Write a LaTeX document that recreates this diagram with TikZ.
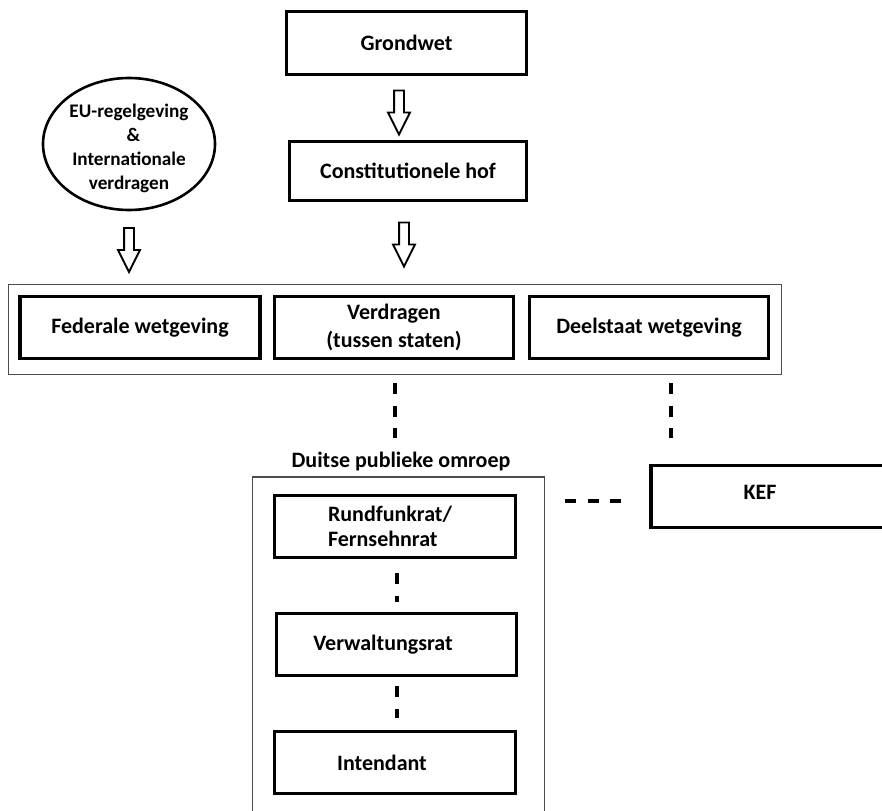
\documentclass[tikz,border=0pt]{standalone}
\usepackage{fontspec}
\setmainfont{Carlito}
\usetikzlibrary{shapes.arrows,shapes.geometric}

\begin{document}
\begin{tikzpicture}[x=1pt,y=-1pt,
  lbl/.style={font=\bfseries\fontsize{22}{25}\selectfont},
  box/.style={lbl, draw, line width=3.5pt, inner sep=0pt, align=center,
    minimum width=240pt, minimum height=62pt},
  frame/.style={draw=black!70, line width=1.2pt, inner sep=0pt},
  hollow/.style={single arrow, draw, line width=1.9pt, shape border rotate=270,
    inner xsep=4pt, inner ysep=0pt, minimum height=44pt,
    single arrow head extend=6pt, single arrow tip angle=53},
  link/.style={line width=4.5pt, dash pattern=on 11pt off 11.5pt}
]
\useasboundingbox[fill=white] (0,0) rectangle (882,810);

% top of the hierarchy
\node[box, minimum width=240pt, minimum height=63pt] (grondwet) at (406.5,43) {Grondwet};
\node[box, minimum width=237pt, minimum height=59pt] (hof) at (408,171) {Constitutionele hof};
\node[hollow] (a1) at (399,107.5) {};
\node[hollow] (a2) at (404,239.5) {};

% European and international law
\node[ellipse, draw, line width=2.6pt, minimum width=172pt, minimum height=132pt,
  inner sep=-8pt, font=\bfseries\fontsize{19.2}{24}\selectfont]
  (eu) at (129,144)
  {\raisebox{-5pt}[\height][\depth]{\begin{tabular}{@{}c@{}}
     EU-regelgeving\\ \ \ \&\\ Internationale\\ verdragen\end{tabular}}};
\node[hollow] (a3) at (129,245) {};

% the legislation row
\node[frame, minimum width=773pt, minimum height=90pt] (wetgeving) at (395,329.5) {};
\node[box] (federaal) at (140,327.5) {Federale wetgeving};
\node[box, minimum width=239pt, font=\bfseries\fontsize{22}{28}\selectfont] (verdragen)
  at (394,327.5) {Verdragen\\(tussen staten)};
\node[box, minimum width=239pt] (deelstaat) at (649,327.5) {Deelstaat wetgeving};

% public broadcaster
\node[lbl] (omroeplbl) at (401,462) {Duitse publieke omroep};
\node[frame, minimum width=292pt, minimum height=340pt] (omroep) at (398.5,647) {};
\node[box, minimum width=241pt, align=left] (rundfunk) at (395,526.5)
  {\hspace*{-10pt}Rundfunkrat/\\\hspace*{-10pt}Fernsehnrat};
\node[box, minimum width=240pt] (verwaltung) at (396.5,644.5) {\hspace*{-27pt}Verwaltungsrat};
\node[box, minimum width=241pt] (intendant) at (395,762.5) {\hspace*{-26pt}Intendant};

% KEF
\node[box, minimum width=238pt, minimum height=62pt] (kef) at (770,496.5)
  {\raisebox{8pt}{\hspace*{-20pt}KEF}};

% dashed relations
\coordinate (v1a) at (395,383);
\coordinate (v1b) at (395,438);
\coordinate (v2a) at (671,383);
\coordinate (v2b) at (671,438);
\draw[link] (v1a) -- (v1b);
\draw[link] (v2a) -- (v2b);
\coordinate (h1a) at (565,501);
\coordinate (h1b) at (621,501);
\draw[link, line width=4pt] (h1a) -- (h1b);
\draw[link] ([yshift=-14pt]rundfunk.south -| 397,0) -- ([yshift=10pt]verwaltung.north -| 397,0);
\draw[link] ([yshift=-9pt]verwaltung.south -| 397,0) -- ([yshift=12pt]intendant.north -| 397,0);
\end{tikzpicture}
\end{document}
